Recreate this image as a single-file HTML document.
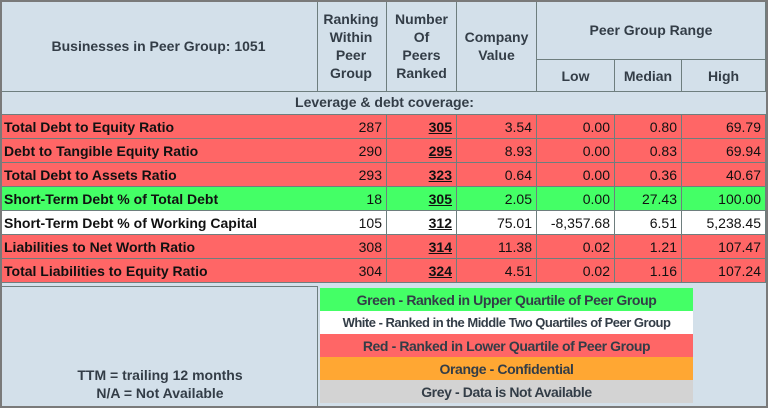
<!DOCTYPE html>
<html><head><meta charset="utf-8"><style>
body{margin:0;background:#fff;font-family:"Liberation Sans Narrow","Liberation Sans",sans-serif;}
#t{position:absolute;left:0;top:0;width:768px;height:408px;background:#d3e0ea;box-sizing:border-box;border:2px solid #7a7a7a;overflow:hidden}
.c{position:absolute;box-sizing:border-box;font-size:14px;color:#111;display:flex;align-items:center;border-right:1px solid #6e7e7e;border-bottom:1px solid #6e7e7e;white-space:nowrap}
.h{font-weight:bold;color:#333d47;justify-content:center;text-align:center;line-height:18px}
.r{justify-content:flex-end;padding-right:4px}
.l{font-weight:bold;padding-left:4px}
.u{font-weight:bold;text-decoration:underline}
.lg{position:absolute;left:318px;width:373px;height:23px;font-size:14px;font-weight:bold;color:#333d47;display:flex;align-items:center;justify-content:center;white-space:nowrap;letter-spacing:-0.4px}
</style></head><body>
<div id="t"></div>
<script>
const t=document.getElementById('t');
const cols=[0,316,387,457,537,615,682,766];
const labels=["Total Debt to Equity Ratio","Debt to Tangible Equity Ratio","Total Debt to Assets Ratio","Short-Term Debt % of Total Debt","Short-Term Debt % of Working Capital","Liabilities to Net Worth Ratio","Total Liabilities to Equity Ratio"];
const ranks=["287","290","293","18","105","308","304"];
const peers=["305","295","323","305","312","314","324"];
const company=["3.54","8.93","0.64","2.05","75.01","11.38","4.51"];
const low=["0.00","0.00","0.00","0.00","-8,357.68","0.02","0.02"];
const median=["0.80","0.83","0.36","27.43","6.51","1.21","1.16"];
const high=["69.79","69.94","40.67","100.00","5,238.45","107.47","107.24"];
const status=["red","red","red","green","white","red","red"];
const bg={red:"#ff6666",green:"#44ff66",white:"#ffffff"};
function cell(x,y,w,h,cls,html,name){const d=document.createElement('div');d.className='c '+cls;d.style.left=x+'px';d.style.top=y+'px';d.style.width=w+'px';d.style.height=h+'px';d.innerHTML=html;


t.appendChild(d);return d;}
const W=i=>cols[i+1]-cols[i];
cell(-2,-2,318,92,'h','Businesses in Peer Group: 1051','peer-count-header');
cell(316-2,-2,W(1),92,'h','Ranking<br>Within<br>Peer<br>Group','ranking-header');
cell(387-2,-2,W(2),92,'h','Number<br>Of<br>Peers<br>Ranked','peers-header');
cell(457-2,-2,W(3),92,'h','Company<br>Value','company-value-header');
cell(537-2,-2,766-537,60,'h','Peer Group Range','peer-range-header');
cell(537-2,58,W(4),32,'h','Low','low-header');
cell(615-2,58,W(5),32,'h','Median','median-header');
cell(682-2,58,W(6),32,'h','High','high-header');
cell(-2,88,770,25,'h','Leverage &amp; debt coverage:','section-header');
for(let i=0;i<labels.length;i++){
 const y=113+i*24;
 const vals=[labels[i],ranks[i],peers[i],company[i],low[i],median[i],high[i]];
 const nm=['metric-label','rank','peers','company-value','low','median','high'];
 for(let j=0;j<7;j++){
  const x=(j==0?-2:cols[j]-2);
  const d=cell(x,y,(j==0?318:W(j)),24,j==0?'l':'r',j==2?'<span class="u">'+vals[j]+'</span>':vals[j],nm[j]+'-'+(i+1));
  d.style.background=bg[status[i]];
 }
}
const foot=document.createElement('div');
foot.style.cssText='position:absolute;left:-2px;top:284px;width:318px;height:124px;border-right:1px solid #6e7e7e;border-top:1px solid #6e7e7e;box-sizing:border-box';


t.appendChild(foot);
const fn=document.createElement('div');
fn.style.cssText='position:absolute;left:0;width:316px;top:364px;text-align:center;font-size:14px;font-weight:bold;color:#333d47;line-height:18px';
fn.innerHTML='TTM = trailing 12 months<br>N/A = Not Available';


t.appendChild(fn);
const legTexts=["Green - Ranked in Upper Quartile of Peer Group","White - Ranked in the Middle Two Quartiles of Peer Group","Red - Ranked in Lower Quartile of Peer Group","Orange - Confidential","Grey - Data is Not Available"];
const legColors=["#44ff66","#ffffff","#ff6666","#ffa733","#d3d3d3"];
for(let k=0;k<5;k++){const d=document.createElement('div');d.className='lg';d.style.top=(286+k*23)+'px';d.style.background=legColors[k];d.textContent=legTexts[k];
if(k==1){d.style.fontSize='13px';d.style.letterSpacing='-0.5px';}


t.appendChild(d);}
</script>
</body></html>
